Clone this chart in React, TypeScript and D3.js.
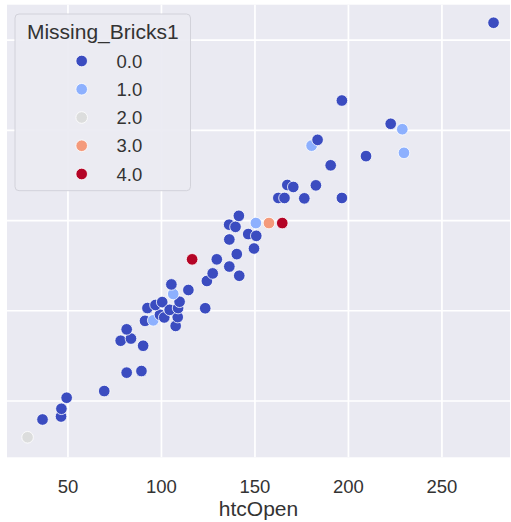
import React from "react";
import * as d3 from "d3";

const xValues = [28.4, 36.4, 46.3, 46.5, 49.3, 69.4, 81.4, 89.3, 90.2, 78.2, 83.7, 81.4, 91.2, 95.6, 107.6, 99.2, 101.5, 108.7, 92.5, 96.8, 100.4, 104.4, 108.9, 109.7, 123.4, 106.3, 105.3, 114.4, 124.3, 127.4, 116.4, 129.6, 136.3, 141.6, 140.3, 136.3, 149.5, 146.4, 150.7, 136.2, 139.6, 141.4, 150.5, 157.5, 164.6, 162.5, 165.8, 176.4, 196.5, 167.3, 170.5, 182.6, 190.5, 180.3, 183.5, 209.4, 196.5, 222.6, 228.8, 229.7, 277.6];
const yValues = [29.9, 39.75, 41.4, 45.7, 51.8, 55.5, 65.7, 66.6, 80.6, 83.4, 84.6, 89.7, 94.4, 94.7, 91.6, 97.8, 96.3, 96.5, 101.5, 103.2, 104.8, 100.5, 101.5, 105, 101.4, 109.3, 114.6, 111.5, 116.5, 120.7, 128.5, 128.5, 124.5, 119.4, 131.4, 139.5, 134.5, 142.5, 141.5, 147.7, 146.5, 152.6, 148.6, 148.6, 148.6, 162.5, 162.5, 162.3, 162.5, 169.7, 168.6, 169.5, 180.6, 191.5, 194.7, 185.7, 216.5, 203.6, 200.6, 187.5, 259.6];
const missingBricks = [2, 0, 0, 0, 0, 0, 0, 0, 0, 0, 0, 0, 0, 1, 0, 0, 0, 0, 0, 0, 0, 0, 0, 0, 0, 1, 0, 0, 0, 0, 4, 0, 0, 0, 0, 0, 0, 0, 0, 0, 0, 0, 1, 3, 4, 0, 0, 0, 0, 0, 0, 0, 0, 1, 0, 0, 0, 0, 1, 1, 0];

const hueLevels = [0, 1, 2, 3, 4];
const hueLabels = ["0.0", "1.0", "2.0", "3.0", "4.0"];
const hueColors = ["#3b4cc0", "#8db0fe", "#dcdddd", "#f49a7b", "#b40426"];
const xTicks = [50, 100, 150, 200, 250];
const yTicks = [50, 100, 150, 200, 250];

const W = 511;
const H = 522;
const plot = { left: 7, top: 4.7, right: 510, bottom: 457.3 };
const FONT = "'Liberation Sans', Arial, 'DejaVu Sans', sans-serif";

export default function App() {
  const x = d3.scaleLinear().domain([17.4, 286.4]).range([plot.left, plot.right]);
  const y = d3.scaleLinear().domain([18.8, 269.6]).range([plot.bottom, plot.top]);
  const color = d3.scaleOrdinal<number, string>().domain(hueLevels).range(hueColors);

  const legendX = 15;
  const legendY = 14;
  const legendW = 175.5;
  const legendH = 176.7;

  return (
    <svg
      width={W}
      height={H}
      style={{ position: "absolute", left: 0, top: 0, background: "#ffffff" }}
    >
      <rect
        x={plot.left}
        y={plot.top}
        width={plot.right - plot.left}
        height={plot.bottom - plot.top}
        fill="#eaeaf2"
      />
      {xTicks.map((t) => (
        <line key={"gx" + t} x1={x(t)} x2={x(t)} y1={plot.top} y2={plot.bottom} stroke="#ffffff" strokeWidth={1.7} />
      ))}
      {yTicks.map((t) => (
        <line key={"gy" + t} x1={plot.left} x2={plot.right} y1={y(t)} y2={y(t)} stroke="#ffffff" strokeWidth={1.7} />
      ))}
      {xValues.map((xv, i) => (
        <circle
          key={"p" + i}
          cx={x(xv)}
          cy={y(yValues[i])}
          r={5.8}
          fill={color(missingBricks[i])}
          stroke="#ffffff"
          strokeWidth={0.8}
        />
      ))}
      {xTicks.map((t) => (
        <text
          key={"tx" + t}
          x={x(t)}
          y={486}
          textAnchor="middle"
          dominantBaseline="central"
          fontFamily={FONT}
          fontSize={18.5}
          fill="#333333"
        >
          {t}
        </text>
      ))}
      <text
        x={(plot.left + plot.right) / 2}
        y={508}
        textAnchor="middle"
        dominantBaseline="central"
        fontFamily={FONT}
        fontSize={21}
        fill="#333333"
      >
        htcOpen
      </text>
      <g>
        <rect
          x={legendX}
          y={legendY}
          width={legendW}
          height={legendH}
          rx={4}
          fill="#eaeaf2"
          fillOpacity={0.92}
          stroke="#d2d2da"
          strokeWidth={1}
        />
        <text
          x={legendX + legendW / 2}
          y={31.5}
          textAnchor="middle"
          dominantBaseline="central"
          fontFamily={FONT}
          fontSize={21}
          fill="#333333"
        >
          Missing_Bricks1
        </text>
        {hueLevels.map((h, i) => (
          <g key={"lg" + h}>
            <circle cx={81.7} cy={61 + i * 28.25} r={5.8} fill={color(h)} stroke="#ffffff" strokeWidth={0.8} />
            <text
              x={116.5}
              y={61 + i * 28.25}
              dominantBaseline="central"
              fontFamily={FONT}
              fontSize={18.5}
              fill="#333333"
            >
              {hueLabels[i]}
            </text>
          </g>
        ))}
      </g>
    </svg>
  );
}
